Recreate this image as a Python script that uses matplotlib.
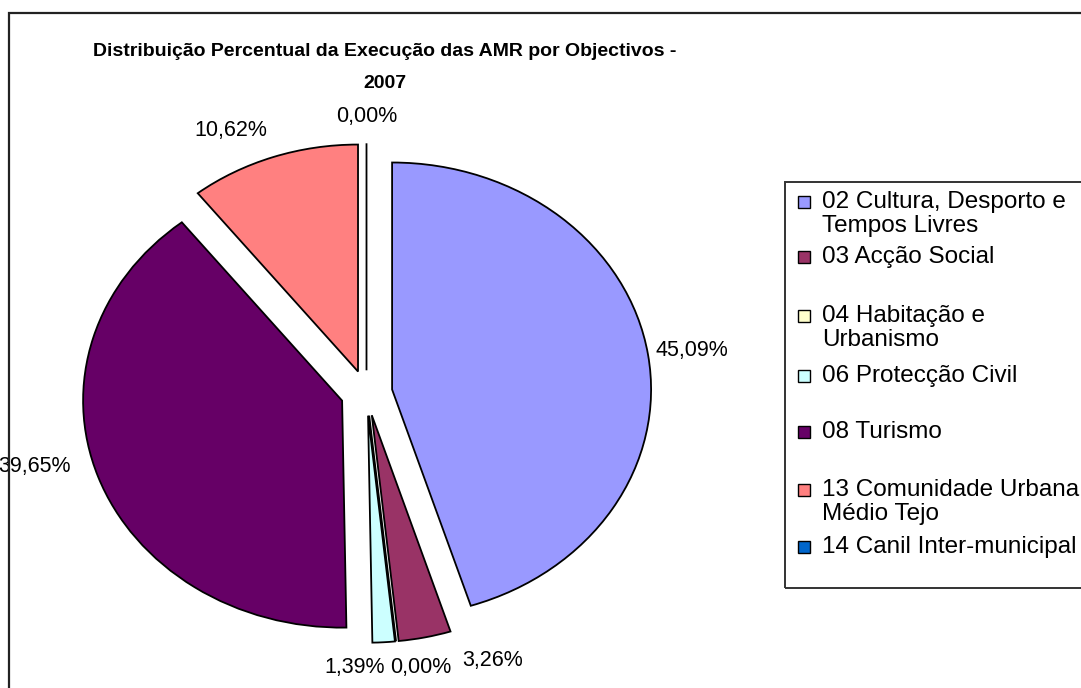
import matplotlib
matplotlib.use('Agg')
import matplotlib.pyplot as plt
from matplotlib.patches import Rectangle

# Chart data
categories = [
    '02 Cultura, Desporto e\nTempos Livres',
    '03 Acção Social',
    '04 Habitação e\nUrbanismo',
    '06 Protecção Civil',
    '08 Turismo',
    '13 Comunidade Urbana\nMédio Tejo',
    '14 Canil Inter-municipal',
]
percentages = [45.09, 3.26, 0.00, 1.39, 39.65, 10.62, 0.00]
colors = ['#9999FF', '#993366', '#FFFFCC', '#CCFFFF', '#660066', '#FF8080', '#0066CC']
title = 'Distribuição Percentual da Execução das AMR por Objectivos -\n2007'

# Layout / style (pixels on a 1081x688 canvas)
W, H = 1081, 688
pie_center_px = (366.5, 393)       # from top-left
pie_radius_px = (259, 227)         # pie is drawn slightly wider than tall
label_nudge_px = [(13, 0), (61, 4), (21, 1), (-31, 2), (-34, 19), (-32, 1), (0, 0)]
legend_rows_px = [202, 257, 316, 376, 432, 490, 547]
legend_line_px = 24

plt.rcParams['font.family'] = ['Liberation Sans', 'DejaVu Sans']

fig = plt.figure(figsize=(W / 100, H / 100), dpi=100)
ax = fig.add_axes([0, 0, 1, 1])

labels = [f'{v:.2f}%'.replace('.', ',') for v in percentages]
wedges, texts = ax.pie(
    percentages, labels=labels, colors=colors, startangle=90, counterclock=False,
    explode=[0.1] * len(percentages), labeldistance=1.12,
    wedgeprops=dict(edgecolor='black', linewidth=1.3),
    textprops=dict(fontsize=15.5, color='black'),
)

# map data units to pixels: 1 unit = pie radius in px
cx, cy = pie_center_px
rx, ry = pie_radius_px
cy_b = H - cy
ax.set_aspect('auto')
ax.set_xlim(-cx / rx, (W - cx) / rx)
ax.set_ylim(-cy_b / ry, (H - cy_b) / ry)
ax.axis('off')

for t, (dx, dy) in zip(texts, label_nudge_px):
    x, y = t.get_position()
    t.set_position((x + dx / rx, y + dy / ry))
    t.set_horizontalalignment('center')
    t.set_verticalalignment('center')

# chart area border (runs off the right/bottom edges)
fig.patches.append(Rectangle((9 / W, -0.05), 1.2, (H - 13) / H + 0.05,
                             transform=fig.transFigure, fill=False,
                             edgecolor='#222222', linewidth=1.6))

# title
fig.text(385 / W, 1 - 43 / H, title, ha='center', va='top', fontsize=14,
         fontweight='bold', linespacing=2.15)

# legend box and entries
fig.patches.append(Rectangle((785 / W, 1 - 588 / H), 0.5, (588 - 182) / H,
                             transform=fig.transFigure, fill=False,
                             edgecolor='#333333', linewidth=1.4))
for name, col, row in zip(categories, colors, legend_rows_px):
    fig.patches.append(Rectangle((798 / W, 1 - (row + 6) / H), 12 / W, 12 / H,
                                 transform=fig.transFigure, facecolor=col,
                                 edgecolor='black', linewidth=1.0))
    for k, line in enumerate(name.split('\n')):
        fig.text(822 / W, 1 - (row + k * legend_line_px) / H, line,
                 ha='left', va='center', fontsize=17.5)

fig.savefig('out.png', dpi=100, facecolor='white')
